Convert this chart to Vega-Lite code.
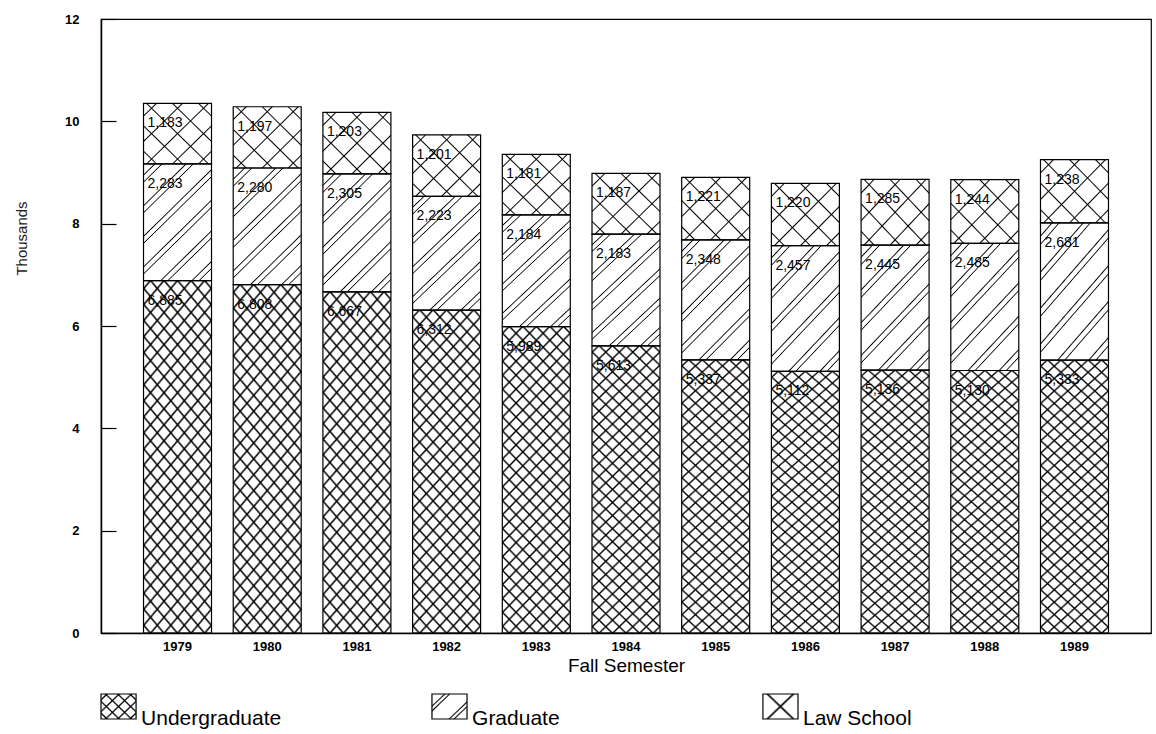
{
  "$schema": "https://vega.github.io/schema/vega-lite/v6.json",
  "padding": {"left": 13, "top": 12, "right": 6, "bottom": 0},
  "background": "white",
  "data": {"values": [
    {"year": 1979, "series": "Undergraduate", "value": 6885},
    {"year": 1979, "series": "Graduate", "value": 2283},
    {"year": 1979, "series": "Law School", "value": 1183},
    {"year": 1980, "series": "Undergraduate", "value": 6808},
    {"year": 1980, "series": "Graduate", "value": 2280},
    {"year": 1980, "series": "Law School", "value": 1197},
    {"year": 1981, "series": "Undergraduate", "value": 6667},
    {"year": 1981, "series": "Graduate", "value": 2305},
    {"year": 1981, "series": "Law School", "value": 1203},
    {"year": 1982, "series": "Undergraduate", "value": 6312},
    {"year": 1982, "series": "Graduate", "value": 2223},
    {"year": 1982, "series": "Law School", "value": 1201},
    {"year": 1983, "series": "Undergraduate", "value": 5989},
    {"year": 1983, "series": "Graduate", "value": 2184},
    {"year": 1983, "series": "Law School", "value": 1181},
    {"year": 1984, "series": "Undergraduate", "value": 5613},
    {"year": 1984, "series": "Graduate", "value": 2183},
    {"year": 1984, "series": "Law School", "value": 1187},
    {"year": 1985, "series": "Undergraduate", "value": 5337},
    {"year": 1985, "series": "Graduate", "value": 2348},
    {"year": 1985, "series": "Law School", "value": 1221},
    {"year": 1986, "series": "Undergraduate", "value": 5112},
    {"year": 1986, "series": "Graduate", "value": 2457},
    {"year": 1986, "series": "Law School", "value": 1220},
    {"year": 1987, "series": "Undergraduate", "value": 5136},
    {"year": 1987, "series": "Graduate", "value": 2445},
    {"year": 1987, "series": "Law School", "value": 1285},
    {"year": 1988, "series": "Undergraduate", "value": 5130},
    {"year": 1988, "series": "Graduate", "value": 2485},
    {"year": 1988, "series": "Law School", "value": 1244},
    {"year": 1989, "series": "Undergraduate", "value": 5333},
    {"year": 1989, "series": "Graduate", "value": 2681},
    {"year": 1989, "series": "Law School", "value": 1238}
  ]},
  "spacing": 17,
  "vconcat": [
    {
      "width": 1050,
      "height": 614,
      "transform": [
        {"calculate": "indexof(['Undergraduate','Graduate','Law School'], datum.series)", "as": "rank"},
        {"stack": "value", "groupby": ["year"], "sort": [{"field": "rank"}], "as": ["lo", "hi"]}
      ],
      "encoding": {
        "x": {"field": "year", "type": "ordinal", "title": "Fall Semester",
              "scale": {"paddingInner": 0.242, "paddingOuter": 0.474},
              "axis": {"ticks": false, "labelAngle": 0, "labelPadding": 7, "titlePadding": 3, "titleFontSize": 19, "titleFontWeight": "normal", "labelFontWeight": "bold", "labelFontSize": 13}},
        "y": {"field": "hi", "type": "quantitative", "title": "Thousands",
              "scale": {"domain": [0, 12000], "nice": false},
              "axis": {"values": [0, 2000, 4000, 6000, 8000, 10000, 12000], "labelExpr": "datum.value / 1000", "grid": false, "tickSize": -15, "labelPadding": 37, "titlePadding": 35, "titleY": 219, "titleFontSize": 15, "titleFontWeight": "normal", "titleColor": "#222", "labelFontWeight": "bold", "labelFontSize": 13}}
      },
      "layer": [
        {
          "transform": [{"filter": "datum.series === 'Undergraduate'"}],
          "mark": {"type": "bar", "fill": {"gradient": "linear", "x1": 0, "y1": 0, "x2": 0.2675, "y2": 1.168, "stops": [
            {"offset": 0.0130, "color": "rgba(0,0,0,0)"}, {"offset": 0.0185, "color": "#000"}, {"offset": 0.0240, "color": "rgba(0,0,0,0)"},
            {"offset": 0.0501, "color": "rgba(0,0,0,0)"}, {"offset": 0.0556, "color": "#000"}, {"offset": 0.0611, "color": "rgba(0,0,0,0)"},
            {"offset": 0.0871, "color": "rgba(0,0,0,0)"}, {"offset": 0.0926, "color": "#000"}, {"offset": 0.0981, "color": "rgba(0,0,0,0)"},
            {"offset": 0.1241, "color": "rgba(0,0,0,0)"}, {"offset": 0.1296, "color": "#000"}, {"offset": 0.1351, "color": "rgba(0,0,0,0)"},
            {"offset": 0.1612, "color": "rgba(0,0,0,0)"}, {"offset": 0.1667, "color": "#000"}, {"offset": 0.1722, "color": "rgba(0,0,0,0)"},
            {"offset": 0.1982, "color": "rgba(0,0,0,0)"}, {"offset": 0.2037, "color": "#000"}, {"offset": 0.2092, "color": "rgba(0,0,0,0)"},
            {"offset": 0.2352, "color": "rgba(0,0,0,0)"}, {"offset": 0.2407, "color": "#000"}, {"offset": 0.2462, "color": "rgba(0,0,0,0)"},
            {"offset": 0.2723, "color": "rgba(0,0,0,0)"}, {"offset": 0.2778, "color": "#000"}, {"offset": 0.2833, "color": "rgba(0,0,0,0)"},
            {"offset": 0.3093, "color": "rgba(0,0,0,0)"}, {"offset": 0.3148, "color": "#000"}, {"offset": 0.3203, "color": "rgba(0,0,0,0)"},
            {"offset": 0.3464, "color": "rgba(0,0,0,0)"}, {"offset": 0.3519, "color": "#000"}, {"offset": 0.3574, "color": "rgba(0,0,0,0)"},
            {"offset": 0.3834, "color": "rgba(0,0,0,0)"}, {"offset": 0.3889, "color": "#000"}, {"offset": 0.3944, "color": "rgba(0,0,0,0)"},
            {"offset": 0.4204, "color": "rgba(0,0,0,0)"}, {"offset": 0.4259, "color": "#000"}, {"offset": 0.4314, "color": "rgba(0,0,0,0)"},
            {"offset": 0.4575, "color": "rgba(0,0,0,0)"}, {"offset": 0.4630, "color": "#000"}, {"offset": 0.4685, "color": "rgba(0,0,0,0)"},
            {"offset": 0.4945, "color": "rgba(0,0,0,0)"}, {"offset": 0.5000, "color": "#000"}, {"offset": 0.5055, "color": "rgba(0,0,0,0)"},
            {"offset": 0.5315, "color": "rgba(0,0,0,0)"}, {"offset": 0.5370, "color": "#000"}, {"offset": 0.5425, "color": "rgba(0,0,0,0)"},
            {"offset": 0.5686, "color": "rgba(0,0,0,0)"}, {"offset": 0.5741, "color": "#000"}, {"offset": 0.5796, "color": "rgba(0,0,0,0)"},
            {"offset": 0.6056, "color": "rgba(0,0,0,0)"}, {"offset": 0.6111, "color": "#000"}, {"offset": 0.6166, "color": "rgba(0,0,0,0)"},
            {"offset": 0.6426, "color": "rgba(0,0,0,0)"}, {"offset": 0.6481, "color": "#000"}, {"offset": 0.6536, "color": "rgba(0,0,0,0)"},
            {"offset": 0.6797, "color": "rgba(0,0,0,0)"}, {"offset": 0.6852, "color": "#000"}, {"offset": 0.6907, "color": "rgba(0,0,0,0)"},
            {"offset": 0.7167, "color": "rgba(0,0,0,0)"}, {"offset": 0.7222, "color": "#000"}, {"offset": 0.7277, "color": "rgba(0,0,0,0)"},
            {"offset": 0.7538, "color": "rgba(0,0,0,0)"}, {"offset": 0.7593, "color": "#000"}, {"offset": 0.7648, "color": "rgba(0,0,0,0)"},
            {"offset": 0.7908, "color": "rgba(0,0,0,0)"}, {"offset": 0.7963, "color": "#000"}, {"offset": 0.8018, "color": "rgba(0,0,0,0)"},
            {"offset": 0.8278, "color": "rgba(0,0,0,0)"}, {"offset": 0.8333, "color": "#000"}, {"offset": 0.8388, "color": "rgba(0,0,0,0)"},
            {"offset": 0.8649, "color": "rgba(0,0,0,0)"}, {"offset": 0.8704, "color": "#000"}, {"offset": 0.8759, "color": "rgba(0,0,0,0)"},
            {"offset": 0.9019, "color": "rgba(0,0,0,0)"}, {"offset": 0.9074, "color": "#000"}, {"offset": 0.9129, "color": "rgba(0,0,0,0)"},
            {"offset": 0.9389, "color": "rgba(0,0,0,0)"}, {"offset": 0.9444, "color": "#000"}, {"offset": 0.9499, "color": "rgba(0,0,0,0)"},
            {"offset": 0.9760, "color": "rgba(0,0,0,0)"}, {"offset": 0.9815, "color": "#000"}, {"offset": 0.9870, "color": "rgba(0,0,0,0)"}
          ]}},
          "encoding": {"y2": {"field": "lo"}}
        },
        {
          "transform": [{"filter": "datum.series === 'Undergraduate'"}],
          "mark": {"type": "bar", "stroke": "#000", "strokeWidth": 1.2, "fill": {"gradient": "linear", "x1": 0, "y1": 1, "x2": 0.2675, "y2": -0.168, "stops": [
            {"offset": 0.0130, "color": "rgba(0,0,0,0)"}, {"offset": 0.0185, "color": "#000"}, {"offset": 0.0240, "color": "rgba(0,0,0,0)"},
            {"offset": 0.0501, "color": "rgba(0,0,0,0)"}, {"offset": 0.0556, "color": "#000"}, {"offset": 0.0611, "color": "rgba(0,0,0,0)"},
            {"offset": 0.0871, "color": "rgba(0,0,0,0)"}, {"offset": 0.0926, "color": "#000"}, {"offset": 0.0981, "color": "rgba(0,0,0,0)"},
            {"offset": 0.1241, "color": "rgba(0,0,0,0)"}, {"offset": 0.1296, "color": "#000"}, {"offset": 0.1351, "color": "rgba(0,0,0,0)"},
            {"offset": 0.1612, "color": "rgba(0,0,0,0)"}, {"offset": 0.1667, "color": "#000"}, {"offset": 0.1722, "color": "rgba(0,0,0,0)"},
            {"offset": 0.1982, "color": "rgba(0,0,0,0)"}, {"offset": 0.2037, "color": "#000"}, {"offset": 0.2092, "color": "rgba(0,0,0,0)"},
            {"offset": 0.2352, "color": "rgba(0,0,0,0)"}, {"offset": 0.2407, "color": "#000"}, {"offset": 0.2462, "color": "rgba(0,0,0,0)"},
            {"offset": 0.2723, "color": "rgba(0,0,0,0)"}, {"offset": 0.2778, "color": "#000"}, {"offset": 0.2833, "color": "rgba(0,0,0,0)"},
            {"offset": 0.3093, "color": "rgba(0,0,0,0)"}, {"offset": 0.3148, "color": "#000"}, {"offset": 0.3203, "color": "rgba(0,0,0,0)"},
            {"offset": 0.3464, "color": "rgba(0,0,0,0)"}, {"offset": 0.3519, "color": "#000"}, {"offset": 0.3574, "color": "rgba(0,0,0,0)"},
            {"offset": 0.3834, "color": "rgba(0,0,0,0)"}, {"offset": 0.3889, "color": "#000"}, {"offset": 0.3944, "color": "rgba(0,0,0,0)"},
            {"offset": 0.4204, "color": "rgba(0,0,0,0)"}, {"offset": 0.4259, "color": "#000"}, {"offset": 0.4314, "color": "rgba(0,0,0,0)"},
            {"offset": 0.4575, "color": "rgba(0,0,0,0)"}, {"offset": 0.4630, "color": "#000"}, {"offset": 0.4685, "color": "rgba(0,0,0,0)"},
            {"offset": 0.4945, "color": "rgba(0,0,0,0)"}, {"offset": 0.5000, "color": "#000"}, {"offset": 0.5055, "color": "rgba(0,0,0,0)"},
            {"offset": 0.5315, "color": "rgba(0,0,0,0)"}, {"offset": 0.5370, "color": "#000"}, {"offset": 0.5425, "color": "rgba(0,0,0,0)"},
            {"offset": 0.5686, "color": "rgba(0,0,0,0)"}, {"offset": 0.5741, "color": "#000"}, {"offset": 0.5796, "color": "rgba(0,0,0,0)"},
            {"offset": 0.6056, "color": "rgba(0,0,0,0)"}, {"offset": 0.6111, "color": "#000"}, {"offset": 0.6166, "color": "rgba(0,0,0,0)"},
            {"offset": 0.6426, "color": "rgba(0,0,0,0)"}, {"offset": 0.6481, "color": "#000"}, {"offset": 0.6536, "color": "rgba(0,0,0,0)"},
            {"offset": 0.6797, "color": "rgba(0,0,0,0)"}, {"offset": 0.6852, "color": "#000"}, {"offset": 0.6907, "color": "rgba(0,0,0,0)"},
            {"offset": 0.7167, "color": "rgba(0,0,0,0)"}, {"offset": 0.7222, "color": "#000"}, {"offset": 0.7277, "color": "rgba(0,0,0,0)"},
            {"offset": 0.7538, "color": "rgba(0,0,0,0)"}, {"offset": 0.7593, "color": "#000"}, {"offset": 0.7648, "color": "rgba(0,0,0,0)"},
            {"offset": 0.7908, "color": "rgba(0,0,0,0)"}, {"offset": 0.7963, "color": "#000"}, {"offset": 0.8018, "color": "rgba(0,0,0,0)"},
            {"offset": 0.8278, "color": "rgba(0,0,0,0)"}, {"offset": 0.8333, "color": "#000"}, {"offset": 0.8388, "color": "rgba(0,0,0,0)"},
            {"offset": 0.8649, "color": "rgba(0,0,0,0)"}, {"offset": 0.8704, "color": "#000"}, {"offset": 0.8759, "color": "rgba(0,0,0,0)"},
            {"offset": 0.9019, "color": "rgba(0,0,0,0)"}, {"offset": 0.9074, "color": "#000"}, {"offset": 0.9129, "color": "rgba(0,0,0,0)"},
            {"offset": 0.9389, "color": "rgba(0,0,0,0)"}, {"offset": 0.9444, "color": "#000"}, {"offset": 0.9499, "color": "rgba(0,0,0,0)"},
            {"offset": 0.9760, "color": "rgba(0,0,0,0)"}, {"offset": 0.9815, "color": "#000"}, {"offset": 0.9870, "color": "rgba(0,0,0,0)"}
          ]}},
          "encoding": {"y2": {"field": "lo"}}
        },
        {
          "transform": [{"filter": "datum.series === 'Graduate'"}],
          "mark": {"type": "bar", "stroke": "#000", "strokeWidth": 1.2, "fill": {"gradient": "linear", "x1": 0, "y1": 0, "x2": 0.677, "y2": 1.185, "stops": [
            {"offset": 0.0543, "color": "rgba(0,0,0,0)"}, {"offset": 0.0613, "color": "#000"}, {"offset": 0.0683, "color": "rgba(0,0,0,0)"},
            {"offset": 0.0933, "color": "rgba(0,0,0,0)"}, {"offset": 0.0993, "color": "#000"}, {"offset": 0.1053, "color": "rgba(0,0,0,0)"},
            {"offset": 0.221, "color": "rgba(0,0,0,0)"}, {"offset": 0.228, "color": "#000"}, {"offset": 0.235, "color": "rgba(0,0,0,0)"},
            {"offset": 0.260, "color": "rgba(0,0,0,0)"}, {"offset": 0.266, "color": "#000"}, {"offset": 0.272, "color": "rgba(0,0,0,0)"},
            {"offset": 0.3877, "color": "rgba(0,0,0,0)"}, {"offset": 0.3947, "color": "#000"}, {"offset": 0.4017, "color": "rgba(0,0,0,0)"},
            {"offset": 0.4267, "color": "rgba(0,0,0,0)"}, {"offset": 0.4327, "color": "#000"}, {"offset": 0.4387, "color": "rgba(0,0,0,0)"},
            {"offset": 0.5543, "color": "rgba(0,0,0,0)"}, {"offset": 0.5613, "color": "#000"}, {"offset": 0.5683, "color": "rgba(0,0,0,0)"},
            {"offset": 0.5933, "color": "rgba(0,0,0,0)"}, {"offset": 0.5993, "color": "#000"}, {"offset": 0.6053, "color": "rgba(0,0,0,0)"},
            {"offset": 0.721, "color": "rgba(0,0,0,0)"}, {"offset": 0.728, "color": "#000"}, {"offset": 0.735, "color": "rgba(0,0,0,0)"},
            {"offset": 0.760, "color": "rgba(0,0,0,0)"}, {"offset": 0.766, "color": "#000"}, {"offset": 0.772, "color": "rgba(0,0,0,0)"},
            {"offset": 0.8877, "color": "rgba(0,0,0,0)"}, {"offset": 0.8947, "color": "#000"}, {"offset": 0.9017, "color": "rgba(0,0,0,0)"},
            {"offset": 0.9267, "color": "rgba(0,0,0,0)"}, {"offset": 0.9327, "color": "#000"}, {"offset": 0.9387, "color": "rgba(0,0,0,0)"}
          ]}},
          "encoding": {"y2": {"field": "lo"}}
        },
        {
          "transform": [{"filter": "datum.series === 'Law School'"}],
          "mark": {"type": "bar", "fill": {"gradient": "linear", "x1": 0, "y1": 0, "x2": 1.044, "y2": 0.952, "stops": [
            {"offset": 0.089, "color": "rgba(0,0,0,0)"}, {"offset": 0.1, "color": "#000"}, {"offset": 0.111, "color": "rgba(0,0,0,0)"},
            {"offset": 0.289, "color": "rgba(0,0,0,0)"}, {"offset": 0.3, "color": "#000"}, {"offset": 0.311, "color": "rgba(0,0,0,0)"},
            {"offset": 0.489, "color": "rgba(0,0,0,0)"}, {"offset": 0.5, "color": "#000"}, {"offset": 0.511, "color": "rgba(0,0,0,0)"},
            {"offset": 0.689, "color": "rgba(0,0,0,0)"}, {"offset": 0.7, "color": "#000"}, {"offset": 0.711, "color": "rgba(0,0,0,0)"},
            {"offset": 0.889, "color": "rgba(0,0,0,0)"}, {"offset": 0.9, "color": "#000"}, {"offset": 0.911, "color": "rgba(0,0,0,0)"}
          ]}},
          "encoding": {"y2": {"field": "lo"}}
        },
        {
          "transform": [{"filter": "datum.series === 'Law School'"}],
          "mark": {"type": "bar", "stroke": "#000", "strokeWidth": 1.2, "fill": {"gradient": "linear", "x1": 0, "y1": 1, "x2": 1.044, "y2": 0.048, "stops": [
            {"offset": 0.089, "color": "rgba(0,0,0,0)"}, {"offset": 0.1, "color": "#000"}, {"offset": 0.111, "color": "rgba(0,0,0,0)"},
            {"offset": 0.289, "color": "rgba(0,0,0,0)"}, {"offset": 0.3, "color": "#000"}, {"offset": 0.311, "color": "rgba(0,0,0,0)"},
            {"offset": 0.489, "color": "rgba(0,0,0,0)"}, {"offset": 0.5, "color": "#000"}, {"offset": 0.511, "color": "rgba(0,0,0,0)"},
            {"offset": 0.689, "color": "rgba(0,0,0,0)"}, {"offset": 0.7, "color": "#000"}, {"offset": 0.711, "color": "rgba(0,0,0,0)"},
            {"offset": 0.889, "color": "rgba(0,0,0,0)"}, {"offset": 0.9, "color": "#000"}, {"offset": 0.911, "color": "rgba(0,0,0,0)"}
          ]}},
          "encoding": {"y2": {"field": "lo"}}
        },
        {
          "mark": {"type": "text", "align": "left", "baseline": "middle", "dx": 4, "dy": 20, "fontSize": 14, "color": "#000"},
          "encoding": {
            "x": {"field": "year", "type": "ordinal", "bandPosition": 0},
            "text": {"field": "value", "type": "quantitative", "format": ",d"}
          }
        }
      ]
    },
    {
      "width": 697,
      "height": 25,
      "view": {"stroke": null},
      "transform": [{"filter": "datum.year === 1979"}],
      "encoding": {
        "x": {"field": "series", "type": "nominal", "axis": null,
              "scale": {"domain": ["Undergraduate", "Graduate", "Law School"], "paddingInner": 0.894, "paddingOuter": 0}}
      },
      "layer": [
        {
          "transform": [{"filter": "datum.series === 'Undergraduate'"}],
          "mark": {"type": "bar", "fill": {"gradient": "linear", "x1": 0, "y1": 0, "x2": 1.121, "y2": 0.833, "stops": [
            {"offset": 0.07, "color": "rgba(0,0,0,0)"}, {"offset": 0.1, "color": "#000"}, {"offset": 0.13, "color": "rgba(0,0,0,0)"},
            {"offset": 0.27, "color": "rgba(0,0,0,0)"}, {"offset": 0.3, "color": "#000"}, {"offset": 0.33, "color": "rgba(0,0,0,0)"},
            {"offset": 0.47, "color": "rgba(0,0,0,0)"}, {"offset": 0.5, "color": "#000"}, {"offset": 0.53, "color": "rgba(0,0,0,0)"},
            {"offset": 0.67, "color": "rgba(0,0,0,0)"}, {"offset": 0.7, "color": "#000"}, {"offset": 0.73, "color": "rgba(0,0,0,0)"},
            {"offset": 0.87, "color": "rgba(0,0,0,0)"}, {"offset": 0.9, "color": "#000"}, {"offset": 0.93, "color": "rgba(0,0,0,0)"}
          ]}}
        },
        {
          "transform": [{"filter": "datum.series === 'Undergraduate'"}],
          "mark": {"type": "bar", "stroke": "#000", "strokeWidth": 1.2, "fill": {"gradient": "linear", "x1": 0, "y1": 1, "x2": 1.121, "y2": 0.167, "stops": [
            {"offset": 0.07, "color": "rgba(0,0,0,0)"}, {"offset": 0.1, "color": "#000"}, {"offset": 0.13, "color": "rgba(0,0,0,0)"},
            {"offset": 0.27, "color": "rgba(0,0,0,0)"}, {"offset": 0.3, "color": "#000"}, {"offset": 0.33, "color": "rgba(0,0,0,0)"},
            {"offset": 0.47, "color": "rgba(0,0,0,0)"}, {"offset": 0.5, "color": "#000"}, {"offset": 0.53, "color": "rgba(0,0,0,0)"},
            {"offset": 0.67, "color": "rgba(0,0,0,0)"}, {"offset": 0.7, "color": "#000"}, {"offset": 0.73, "color": "rgba(0,0,0,0)"},
            {"offset": 0.87, "color": "rgba(0,0,0,0)"}, {"offset": 0.9, "color": "#000"}, {"offset": 0.93, "color": "rgba(0,0,0,0)"}
          ]}}
        },
        {
          "transform": [{"filter": "datum.series === 'Graduate'"}],
          "mark": {"type": "bar", "stroke": "#000", "strokeWidth": 1.2, "fill": {"gradient": "linear", "x1": 0, "y1": 0, "x2": 1.121, "y2": 0.833, "stops": [
            {"offset": 0.185, "color": "rgba(0,0,0,0)"}, {"offset": 0.21, "color": "#000"}, {"offset": 0.235, "color": "rgba(0,0,0,0)"},
            {"offset": 0.265, "color": "rgba(0,0,0,0)"}, {"offset": 0.29, "color": "#000"}, {"offset": 0.315, "color": "rgba(0,0,0,0)"},
            {"offset": 0.685, "color": "rgba(0,0,0,0)"}, {"offset": 0.71, "color": "#000"}, {"offset": 0.735, "color": "rgba(0,0,0,0)"},
            {"offset": 0.765, "color": "rgba(0,0,0,0)"}, {"offset": 0.79, "color": "#000"}, {"offset": 0.815, "color": "rgba(0,0,0,0)"}
          ]}}
        },
        {
          "transform": [{"filter": "datum.series === 'Law School'"}],
          "mark": {"type": "bar", "fill": {"gradient": "linear", "x1": 0, "y1": 0, "x2": 1.121, "y2": 0.833, "stops": [
            {"offset": 0.46, "color": "rgba(0,0,0,0)"}, {"offset": 0.5, "color": "#000"}, {"offset": 0.54, "color": "rgba(0,0,0,0)"}
          ]}}
        },
        {
          "transform": [{"filter": "datum.series === 'Law School'"}],
          "mark": {"type": "bar", "stroke": "#000", "strokeWidth": 1.2, "fill": {"gradient": "linear", "x1": 0, "y1": 1, "x2": 1.121, "y2": 0.167, "stops": [
            {"offset": 0.46, "color": "rgba(0,0,0,0)"}, {"offset": 0.5, "color": "#000"}, {"offset": 0.54, "color": "rgba(0,0,0,0)"}
          ]}}
        },
        {
          "mark": {"type": "text", "align": "left", "baseline": "alphabetic", "dx": 5, "dy": 18, "fontSize": 21, "color": "#000"},
          "encoding": {
            "x": {"field": "series", "type": "nominal", "bandPosition": 1},
            "text": {"field": "series", "type": "nominal"}
          }
        }
      ]
    }
  ],
  "config": {
    "font": "Liberation Sans",
    "view": {"stroke": "#000", "strokeWidth": 1.2},
    "axis": {"domainColor": "#000", "domainWidth": 1.5, "tickColor": "#000", "tickWidth": 1.2, "labelColor": "#000", "titleColor": "#000", "labelFont": "Liberation Sans", "titleFont": "Liberation Sans"}
  }
}
